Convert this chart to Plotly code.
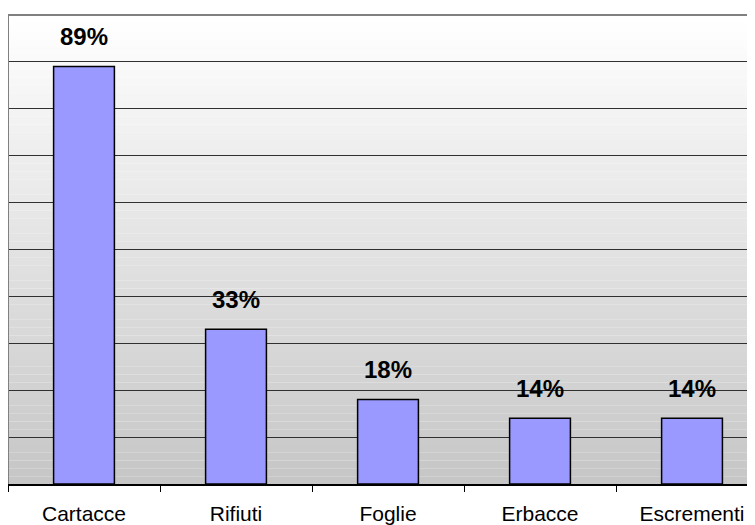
import plotly.graph_objects as go

categories = ["Cartacce", "Rifiuti", "Foglie", "Erbacce", "Escrementi"]
values = [89, 33, 18, 14, 14]
labels = ["89%", "33%", "18%", "14%", "14%"]

fig = go.Figure()
fig.add_trace(go.Bar(
    x=categories, y=values,
    marker=dict(color="#9999FF", line=dict(color="black", width=1.5)),
    width=0.4,
))

for c, v, t in zip(categories, values, labels):
    fig.add_annotation(x=c, y=v, text=t, showarrow=False, yanchor="middle", yshift=30,
                       font=dict(family="Liberation Sans, Arial", size=24, color="black", weight="bold"))

# vertical gradient background (white -> gray)
shapes = []
n = 60
for i in range(n):
    t = (i + 0.5) / n
    c = int(round(255 - (255 - 198) * t))
    shapes.append(dict(type="rect", xref="x domain", yref="y domain",
                       x0=0, x1=1, y0=1 - (i + 1) / n, y1=1 - i / n,
                       fillcolor=f"rgb({c},{c},{c})", line=dict(width=0), layer="below"))
# top and left borders
shapes.append(dict(type="line", xref="x domain", yref="y domain", x0=0, x1=1, y0=1, y1=1,
                   line=dict(color="#808080", width=2), layer="above"))
shapes.append(dict(type="line", xref="x domain", yref="y domain", x0=0, x1=0, y0=0, y1=1,
                   line=dict(color="#808080", width=2), layer="above"))

fig.update_layout(
    width=755, height=525,
    margin=dict(l=0, r=0, t=7, b=49),
    paper_bgcolor="white", plot_bgcolor="white",
    showlegend=False, shapes=shapes,
    font=dict(family="Liberation Sans, Arial", color="black"),
)
fig.update_xaxes(
    range=[-0.5, 4.467], tickson="boundaries", ticks="outside", ticklen=6,
    tickcolor="black", tickwidth=1, showline=True, linecolor="black", linewidth=1.5,
    tickfont=dict(size=21, color="black"), showgrid=False, ticklabelstandoff=10,
)
fig.update_yaxes(
    range=[0, 100], dtick=10, showticklabels=False, showgrid=True,
    gridcolor="#303030", gridwidth=1, zeroline=False, ticks="",
)
fig.write_html("out.html")
